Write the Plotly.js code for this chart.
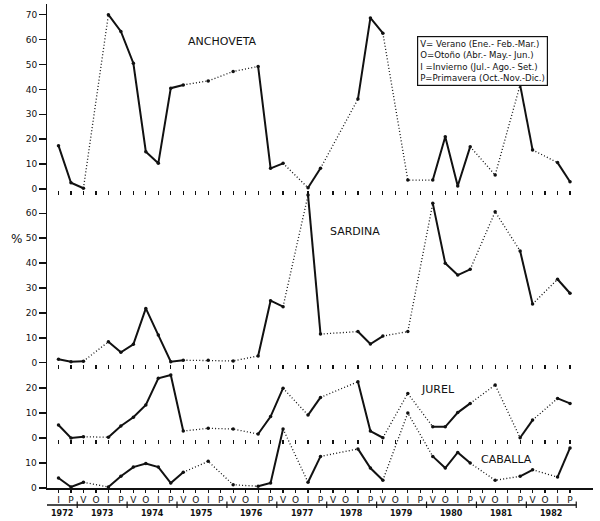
<!DOCTYPE html>
<html><head><meta charset="utf-8">
<script src="https://cdn.plot.ly/plotly-3.0.1.min.js"></script>
<style>html,body{margin:0;padding:0;background:#fff;}#chart{width:600px;height:521px;}</style>
</head><body><div id="chart"></div>
<script>
// ---- data (quarterly, 1972-III .. 1982-IV) ----
const quarterLabels = ['I','P',
  'V','O','I','P', 'V','O','I','P', 'V','O','I','P', 'V','O','I','P', 'V','O','I','P',
  'V','O','I','P', 'V','O','I','P', 'V','O','I','P', 'V','O','I','P', 'V','O','I','P'];
const yearLabels = ['1972','1973','1974','1975','1976','1977','1978','1979','1980','1981','1982'];
const yearFirstQuarter = [0,2,6,10,14,18,22,26,30,34,38];

const anchoveta = [17.4,2.5,0.3,null,70.0,63.3,50.5,15.0,10.3,40.5,
  41.8,null,43.4,null,47.2,null,49.2,8.3,10.3,null,
  0.5,8.3,null,null,36.1,68.7,62.6,null,3.6,null,
  3.6,21.0,1.2,17.0,null,5.6,null,41.8,15.7,null,
  10.6,2.9];
const sardina = [1.4,0.4,0.6,null,8.4,4.2,7.4,21.8,11.1,0.4,
  1.0,null,1.0,null,0.7,null,2.7,24.9,22.5,null,
  67.3,11.5,null,null,12.5,7.5,10.7,null,12.5,null,
  64.0,39.9,35.2,37.5,null,60.6,null,44.9,23.6,null,
  33.5,27.9];
const jurel = [5.2,0.0,0.5,null,0.3,4.8,8.3,13.3,24.0,25.3,
  2.8,null,3.9,null,3.6,null,1.6,8.6,20.0,null,
  9.2,16.3,null,null,22.6,2.8,0.1,null,17.9,null,
  4.5,4.5,10.2,13.9,null,21.3,null,0.1,7.2,null,
  15.9,13.9];
const caballa = [4.0,0.4,2.3,null,0.4,4.7,8.4,9.8,8.4,2.0,
  6.3,null,10.7,null,1.3,null,0.7,2.0,23.7,null,
  2.3,12.7,null,null,15.7,8.0,3.1,null,30.1,null,
  12.7,8.0,14.3,10.0,null,3.1,null,4.7,7.3,null,
  4.4,16.1];
const panelTitles = ['ANCHOVETA','SARDINA','JUREL','CABALLA'];
const anchovetaTicks = [0,10,20,30,40,50,60,70];
const sardinaTicks = [0,10,20,30,40,50,60];
const jurelTicks = [0,10,20];
const caballaTicks = [0,10];
const legendLines = ['V= Verano (Ene.- Feb.-Mar.)','O=Otoño (Abr.- May.- Jun.)',
  'I =Invierno (Jul.- Ago.- Set.)','P=Primavera (Oct.-Nov.-Dic.)'];

// ---- geometry ----
const W=600, H=521, ML=47, MR=7, MT=4, MB=33;
const PW = W-ML-MR, PH = H-MT-MB, PBOT = H-MB;
const X0PX = 58.5, XSTEP = 12.476, S = 2.49;
const xRange = [(ML-X0PX)/XSTEP, (W-MR-X0PX)/XSTEP];
const px2x = px => (px-ML)/PW;
const px2y = py => (PBOT-py)/PH;
const INK = '#111';
const FONT = 'DejaVu Sans';

function panelY(zeroPx, lo, ticks, extra) {
  const botPx = zeroPx - lo*S;
  return Object.assign({
    domain:[Math.max(0,(PBOT-botPx)/PH), 1],
    range:[lo, lo + (botPx-MT)/S],
    tickvals: ticks, ticktext: ticks.map(String),
    ticks:'outside', ticklen:7, tickwidth:1.5, tickcolor:INK,
    showgrid:false, zeroline:false, showline:false,
    tickfont:{family:FONT, size:9, color:INK}, fixedrange:true
  }, extra||{});
}
const xIdx = quarterLabels.map((_,i)=>i);
function panelX(anchor, extra) {
  return Object.assign({
    range:xRange, domain:[0,1], anchor:anchor,
    tickvals:xIdx, ticks:'outside', ticklen:4, tickwidth:1.2, tickcolor:INK,
    showticklabels:false, showgrid:false, zeroline:false, showline:false, fixedrange:true
  }, extra||{});
}

function seriesTraces(vals, xa, ya) {
  const traces = [];
  traces.push({x:xIdx, y:vals, xaxis:xa, yaxis:ya, type:'scatter', mode:'lines+markers',
    connectgaps:false, cliponaxis:false, hoverinfo:'skip',
    line:{color:INK, width:2}, marker:{color:INK, size:3.5}});
  const dx=[], dy=[];
  let prev = null;
  for (let i=0;i<vals.length;i++) {
    if (vals[i]===null) continue;
    if (prev!==null && i>prev+1) {
      if (dx.length && dx[dx.length-1]!==prev) { dx.push(null); dy.push(null); }
      if (!dx.length || dx[dx.length-1]!==prev) { dx.push(prev); dy.push(vals[prev]); }
      dx.push(i); dy.push(vals[i]);
    }
    prev = i;
  }
  traces.push({x:dx, y:dy, xaxis:xa, yaxis:ya, type:'scatter', mode:'lines',
    connectgaps:false, hoverinfo:'skip', line:{color:INK, width:1.3, dash:'1px,2.2px'}});
  return traces;
}

const data = [].concat(
  seriesTraces(caballa,'x','y'),
  seriesTraces(jurel,'x2','y2'),
  seriesTraces(sardina,'x3','y3'),
  seriesTraces(anchoveta,'x4','y4')
);

// year bracket below the axis
const shapes = [];
const yearLinePx = 505;
shapes.push({type:'line', xref:'paper', yref:'paper', x0:0, x1:px2x(X0PX+XSTEP*41.5),
  y0:px2y(yearLinePx), y1:px2y(yearLinePx), line:{color:INK, width:1.3}});
const bounds = yearFirstQuarter.slice(1).map(q=>q-0.5).concat([quarterLabels.length-0.5]);
bounds.forEach(b=>shapes.push({type:'line', xref:'x', yref:'paper', x0:b, x1:b,
  y0:px2y(yearLinePx-3.5), y1:px2y(yearLinePx+3), line:{color:INK, width:1.2}}));

const annotations = [];
yearLabels.forEach((yl,k)=>{
  const left = k===0 ? xRange[0] : yearFirstQuarter[k]-0.5;
  const right = bounds[k];
  annotations.push({xref:'x', yref:'paper', x:(left+right)/2, y:px2y(513.5),
    text:yl, showarrow:false, xanchor:'center', yanchor:'middle',
    font:{family:FONT, size:8, color:INK, weight:700}});
});
const titlePos = [[222,41],[355,231],[438,389],[506,459]];
panelTitles.forEach((t,k)=>annotations.push({xref:'paper', yref:'paper',
  x:px2x(titlePos[k][0]), y:px2y(titlePos[k][1]), text:t, showarrow:false,
  xanchor:'center', yanchor:'middle', font:{family:FONT, size:11, color:INK}}));
annotations.push({xref:'paper', yref:'paper', x:px2x(16), y:px2y(239), text:'%',
  showarrow:false, xanchor:'center', yanchor:'middle', font:{family:FONT, size:12, color:INK}});
annotations.push({xref:'paper', yref:'paper', x:px2x(417), y:px2y(36), text:legendLines.join('<br>'),
  showarrow:false, xanchor:'left', yanchor:'top', align:'left',
  bordercolor:INK, borderwidth:1.2, borderpad:2, bgcolor:'#fff',
  font:{family:FONT, size:8.6, color:INK}});

const layout = {
  width:W, height:H, margin:{l:ML, r:MR, t:MT, b:MB, pad:0},
  paper_bgcolor:'#fff', plot_bgcolor:'rgba(0,0,0,0)', showlegend:false,
  xaxis: panelX('y', {showticklabels:true, ticktext:quarterLabels, showline:true, linewidth:1.5,
    linecolor:INK, ticklen:3, tickfont:{family:FONT, size:9, color:INK}}),
  xaxis2: panelX('y2'), xaxis3: panelX('y3'), xaxis4: panelX('y4'),
  yaxis: panelY(PBOT, 0, caballaTicks, {showline:true, linewidth:1.5, linecolor:INK}),
  yaxis2: panelY(438, -0.6, jurelTicks),
  yaxis3: panelY(362.7, -0.6, sardinaTicks),
  yaxis4: panelY(189, -0.6, anchovetaTicks),
  shapes: shapes, annotations: annotations, hovermode:false
};
Plotly.newPlot('chart', data, layout, {displayModeBar:false, staticPlot:true});
</script></body></html>
